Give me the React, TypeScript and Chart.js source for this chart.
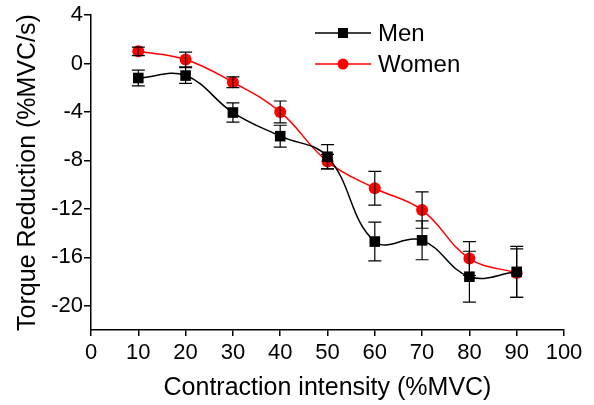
import React, { useEffect, useRef } from "react";
import { Chart, registerables } from "chart.js";

Chart.register(...registerables);

const intensities = [10, 20, 30, 40, 50, 60, 70, 80, 90];
const menValues = [-1.2, -1.0, -4.05, -6.0, -7.7, -14.7, -14.6, -17.6, -17.2];
const menErrors = [0.65, 0.65, 0.8, 0.9, 1.0, 1.6, 1.6, 2.1, 2.1];
const womenValues = [1.0, 0.33, -1.55, -4.0, -8.1, -10.3, -12.1, -16.1, -17.3];
const womenErrors = [0.35, 0.6, 0.45, 0.9, 0.6, 1.4, 1.5, 1.4, 2.0];
const yTickValues = [4, 0, -4, -8, -12, -16, -20];
const xTickValues = [0, 10, 20, 30, 40, 50, 60, 70, 80, 90, 100];
const seriesNames = ["Men", "Women"];

const FONT = "'Liberation Sans', Arial, sans-serif";

const errorBarPlugin = {
  id: "errorBars",
  afterDatasetsDraw(chart: any) {
    const { ctx, scales } = chart;
    const x = scales.x;
    const y = scales.y;
    const sets = [
      { vals: menValues, errs: menErrors, color: "#000000" },
      { vals: womenValues, errs: womenErrors, color: "#000000" },
    ];
    ctx.save();
    ctx.lineWidth = 1.2;
    sets.forEach((s) => {
      ctx.strokeStyle = s.color;
      s.vals.forEach((v, i) => {
        const px = x.getPixelForValue(intensities[i]);
        const top = y.getPixelForValue(v + s.errs[i]);
        const bot = y.getPixelForValue(v - s.errs[i]);
        ctx.beginPath();
        ctx.moveTo(px, top);
        ctx.lineTo(px, bot);
        ctx.moveTo(px - 6.5, top);
        ctx.lineTo(px + 6.5, top);
        ctx.moveTo(px - 6.5, bot);
        ctx.lineTo(px + 6.5, bot);
        ctx.stroke();
      });
    });
    ctx.restore();
  },
};

const legendPlugin = {
  id: "customLegend",
  afterDraw(chart: any) {
    const { ctx } = chart;
    const items = [
      { label: seriesNames[0], color: "#000000", style: "rect" },
      { label: seriesNames[1], color: "#ff0000", style: "circle" },
    ];
    ctx.save();
    items.forEach((it, i) => {
      const yy = 33 + i * 31;
      ctx.strokeStyle = it.color;
      ctx.fillStyle = it.color;
      ctx.lineWidth = 1.5;
      ctx.beginPath();
      ctx.moveTo(315, yy);
      ctx.lineTo(371, yy);
      ctx.stroke();
      if (it.style === "rect") {
        ctx.fillRect(343 - 5, yy - 5, 10, 10);
      } else {
        ctx.beginPath();
        ctx.arc(343, yy, 5.5, 0, Math.PI * 2);
        ctx.fill();
      }
      ctx.fillStyle = "#000000";
      ctx.font = `24px ${FONT}`;
      ctx.textBaseline = "middle";
      ctx.textAlign = "left";
      ctx.fillText(it.label, 378, yy + 1);
    });
    ctx.restore();
  },
};

export default function App() {
  const ref = useRef<HTMLCanvasElement | null>(null);
  useEffect(() => {
    if (!ref.current) return;
    const chart = new Chart(ref.current, {
      type: "line",
      data: {
        datasets: [
          {
            label: seriesNames[0],
            data: intensities.map((x, i) => ({ x, y: menValues[i] })),
            borderColor: "#000000",
            backgroundColor: "#000000",
            borderWidth: 1.5,
            pointStyle: "rect",
            pointRadius: 7.5,
            pointBorderWidth: 0,
            tension: 0.4,
          },
          {
            label: seriesNames[1],
            data: intensities.map((x, i) => ({ x, y: womenValues[i] })),
            borderColor: "#ff0000",
            backgroundColor: "#ff0000",
            borderWidth: 1.5,
            pointStyle: "circle",
            pointRadius: 6,
            pointBorderWidth: 0,
            tension: 0.4,
          },
        ],
      },
      options: {
        animation: false,
        responsive: false,
        maintainAspectRatio: false,
        layout: { padding: { top: 15, right: 30, left: 0, bottom: 0 } },
        plugins: { legend: { display: false }, tooltip: { enabled: false } },
        scales: {
          x: {
            type: "linear",
            min: 0,
            max: 100,
            afterBuildTicks: (s: any) => {
              s.ticks = xTickValues.map((v) => ({ value: v }));
            },
            afterFit: (s: any) => {
              s.height = 75;
            },
            grid: { drawOnChartArea: false, drawTicks: true, tickLength: 6, color: "#000000", lineWidth: 1.5 },
            border: { color: "#000000", width: 1.5 },
            ticks: { color: "#000000", font: { family: FONT, size: 22 }, padding: 4, maxRotation: 0 },
            title: {
              display: true,
              text: "Contraction intensity (%MVC)",
              color: "#000000",
              font: { family: FONT, size: 25 },
              padding: { top: 0, bottom: 2 },
            },
          },
          y: {
            type: "linear",
            min: -22,
            max: 4,
            afterBuildTicks: (s: any) => {
              s.ticks = yTickValues.map((v) => ({ value: v }));
            },
            afterFit: (s: any) => {
              s.width = 91;
            },
            grid: { drawOnChartArea: false, drawTicks: true, tickLength: 7, color: "#000000", lineWidth: 1.5 },
            border: { color: "#000000", width: 1.5 },
            ticks: { color: "#000000", font: { family: FONT, size: 22 }, padding: 1 },
            title: {
              display: true,
              text: "Torque Reduction (%MVC/s)",
              color: "#000000",
              font: { family: FONT, size: 25 },
              padding: { top: 13, bottom: 0 },
            },
          },
        },
      },
      plugins: [errorBarPlugin, legendPlugin],
    });
    return () => chart.destroy();
  }, []);
  return (
    <div style={{ position: "fixed", left: 0, top: 0, width: 594, height: 405, background: "#fff" }}>
      <canvas ref={ref} width={594} height={405} style={{ width: 594, height: 405 }} />
    </div>
  );
}
